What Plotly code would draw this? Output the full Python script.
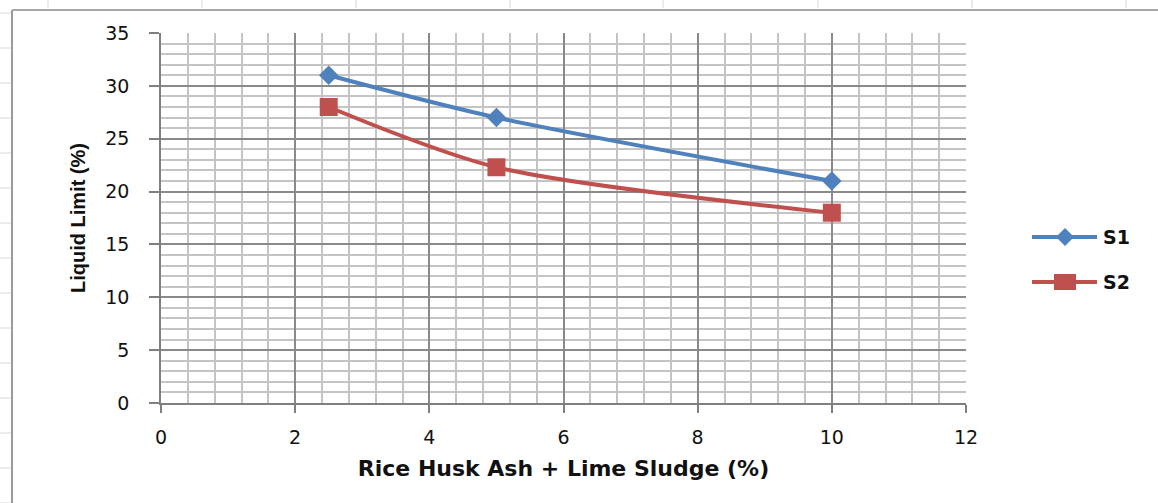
import plotly.graph_objects as go

# Liquid limit vs. additive content
additive_pct = [2.5, 5, 10]
s1_liquid_limit = [31, 27, 21]
s2_liquid_limit = [28, 22.3, 18]
series_names = ["S1", "S2"]
series_colors = ["#4F81BD", "#C0504D"]
x_ticks = [0, 2, 4, 6, 8, 10, 12]
y_ticks = [0, 5, 10, 15, 20, 25, 30, 35]

W, H = 1158, 503
ML, MR, MT, MB = 161, 192, 33, 100
PW, PH = W - ML - MR, H - MT - MB


def px(xp):
    return (xp - ML) / PW


def py(yp):
    return (H - MB - yp) / PH


fig = go.Figure()
fig.add_trace(go.Scatter(
    x=additive_pct, y=s1_liquid_limit, name=series_names[0], mode="lines+markers",
    line=dict(color=series_colors[0], width=4, shape="spline", smoothing=0.8),
    marker=dict(symbol="diamond", size=15, color=series_colors[0]),
    showlegend=False,
))
fig.add_trace(go.Scatter(
    x=additive_pct, y=s2_liquid_limit, name=series_names[1], mode="lines+markers",
    line=dict(color=series_colors[1], width=4, shape="spline", smoothing=0.8),
    marker=dict(symbol="square", size=18, color=series_colors[1]),
    showlegend=False,
))

shapes = []
annotations = []

# legend samples drawn beside the plot
legend_rows = [(237, "diamond"), (282, "square")]
for (yl, sym), name, col in zip(legend_rows, series_names, series_colors):
    shapes.append(dict(type="line", xref="paper", yref="paper",
                       x0=px(1032), x1=px(1097), y0=py(yl), y1=py(yl),
                       line=dict(color=col, width=4), layer="above"))
    if sym == "diamond":
        shapes.append(dict(type="path", xref="paper", yref="paper",
                           xsizemode="pixel", ysizemode="pixel",
                           xanchor=px(1065), yanchor=py(yl),
                           path="M -9 0 L 0 9 L 9 0 L 0 -9 Z",
                           fillcolor=col, line=dict(width=0), layer="above"))
    else:
        shapes.append(dict(type="rect", xref="paper", yref="paper",
                           xsizemode="pixel", ysizemode="pixel",
                           xanchor=px(1065), yanchor=py(yl),
                           x0=-11, x1=11, y0=-8, y1=8,
                           fillcolor=col, line=dict(width=0), layer="above"))
    annotations.append(dict(text=f"<b>{name}</b>", xref="paper", yref="paper",
                            x=px(1101), y=py(yl), xanchor="left", yanchor="middle",
                            showarrow=False,
                            font=dict(family="DejaVu Sans", size=19, color="#111")))

# chart frame edges and surrounding worksheet cell lines
shapes.append(dict(type="line", xref="paper", yref="paper",
                   x0=px(12), x1=px(12), y0=py(10), y1=py(H + 5),
                   line=dict(color="#9a9a9a", width=2)))
shapes.append(dict(type="line", xref="paper", yref="paper",
                   x0=px(12), x1=px(W + 5), y0=py(10), y1=py(10),
                   line=dict(color="#a8a8a8", width=2)))
for yc in range(13, H + 1, 35):
    shapes.append(dict(type="line", xref="paper", yref="paper",
                       x0=px(0), x1=px(11), y0=py(yc), y1=py(yc),
                       line=dict(color="#d8d8d8", width=1)))
for xc in [48, 202, 356, 510, 663, 818, 972, 1126]:
    shapes.append(dict(type="line", xref="paper", yref="paper",
                       x0=px(xc), x1=px(xc), y0=py(0), y1=py(8),
                       line=dict(color="#d8d8d8", width=1)))

fig.update_layout(
    width=W, height=H,
    margin=dict(l=ML, r=MR, t=MT, b=MB),
    paper_bgcolor="white", plot_bgcolor="white",
    font=dict(family="DejaVu Sans", color="#111"),
    shapes=shapes, annotations=annotations,
    xaxis=dict(
        range=[0, 12], tickvals=x_ticks, showgrid=True,
        gridcolor="#8a8a8a", gridwidth=1.5,
        minor=dict(dtick=0.4, showgrid=True, gridcolor="#c4c4c4", gridwidth=1.5),
        showline=True, linecolor="#7f7f7f", linewidth=1.5,
        ticks="outside", ticklen=8, tickcolor="#7f7f7f", tickwidth=1.5,
        ticklabelstandoff=8,
        tickfont=dict(size=19), zeroline=False,
        title=dict(text="<b>Rice Husk Ash + Lime Sludge (%)</b>",
                   font=dict(family="DejaVu Sans", size=22), standoff=14),
    ),
    yaxis=dict(
        range=[0, 35], tickvals=y_ticks, showgrid=True,
        gridcolor="#8a8a8a", gridwidth=1.5,
        minor=dict(dtick=1, showgrid=True, gridcolor="#c4c4c4", gridwidth=1.5),
        showline=True, linecolor="#7f7f7f", linewidth=1.5,
        ticks="outside", ticklen=10, tickcolor="#7f7f7f", tickwidth=1.5,
        ticklabelstandoff=16,
        tickfont=dict(size=19), zeroline=False,
        title=dict(text="<b>Liquid Limit (%)</b>",
                   font=dict(family="Liberation Sans", size=20),
                   standoff=14),
    ),
)

fig.write_html("out.html")
